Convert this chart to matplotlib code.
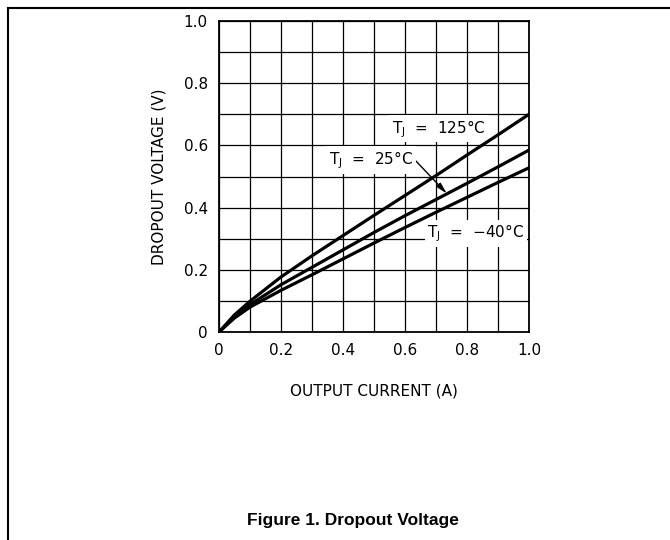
import matplotlib
matplotlib.use("Agg")
import matplotlib.pyplot as plt
from matplotlib.lines import Line2D

# Dropout voltage vs output current
current = [0, 0.05, 0.1, 0.2, 0.3, 0.4, 0.5, 0.6, 0.7, 0.8, 0.9, 1.0]
v_125 = [0, 0.055, 0.099, 0.177, 0.245, 0.310, 0.375, 0.439, 0.503, 0.569, 0.634, 0.700]
v_25 = [0, 0.050, 0.088, 0.152, 0.208, 0.264, 0.320, 0.374, 0.426, 0.478, 0.531, 0.585]
v_m40 = [0, 0.045, 0.080, 0.134, 0.184, 0.235, 0.286, 0.336, 0.385, 0.433, 0.481, 0.528]

ticks = [0, 0.2, 0.4, 0.6, 0.8, 1.0]
tick_labels = ["0", "0.2", "0.4", "0.6", "0.8", "1.0"]

plt.rcParams['font.family'] = ['DejaVu Sans']

fig = plt.figure(figsize=(6.7, 5.4), dpi=100)
ax = fig.add_axes([219 / 670, 1 - 332 / 540, 310 / 670, 311 / 540])

for v in (v_125, v_25, v_m40):
    ax.plot(current, v, color="black", lw=2.3, zorder=3, solid_joinstyle="round")

ax.set_xlim(0, 1.0)
ax.set_ylim(0, 1.0)
ax.set_xticks([i / 10 for i in range(11)], minor=True)
ax.set_yticks([i / 10 for i in range(11)], minor=True)
ax.set_xticks(ticks)
ax.set_yticks(ticks)
ax.set_xticklabels(tick_labels)
ax.set_yticklabels(tick_labels)
ax.tick_params(which="both", length=0, labelsize=11, pad=8, colors="black")
ax.grid(which="both", color="black", lw=0.9)
ax.set_axisbelow(True)
for s in ax.spines.values():
    s.set_linewidth(1.3)
    s.set_zorder(4)

ax.set_xlabel("OUTPUT CURRENT (A)", fontsize=11, labelpad=18)
ax.set_ylabel("DROPOUT VOLTAGE (V)", fontsize=11, labelpad=12)

box = dict(facecolor="white", edgecolor="none", pad=2)
ax.text(0.71, 0.653, r"T$_\mathregular{J}$  =  125°C", fontsize=11,
        ha="center", va="center", bbox=box, zorder=2)
ax.annotate(r"T$_\mathregular{J}$  =  25°C", xy=(0.735, 0.445), xytext=(0.49, 0.553),
            fontsize=11, ha="center", va="center", bbox=box, zorder=2,
            arrowprops=dict(arrowstyle="-|>,head_length=0.6,head_width=0.15",
                            color="black", lw=1, shrinkA=0, shrinkB=0,
                            relpos=(1.0, 0.6)))
ax.text(0.828, 0.318, r"T$_\mathregular{J}$  =  −40°C", fontsize=11,
        ha="center", va="center", bbox=box, zorder=2)

fig.text(353 / 670, 1 - 521 / 540, "Figure 1. Dropout Voltage", fontsize=12.5,
         fontweight="bold", family="Liberation Sans", ha="center", va="center")

# page frame (top and left edges)
fig.add_artist(Line2D([8 / 670, 1], [1 - 8 / 540, 1 - 8 / 540], color="black", lw=1.5))
fig.add_artist(Line2D([8 / 670, 8 / 670], [0, 1 - 8 / 540], color="black", lw=1.5))

fig.savefig("out.png", dpi=100)
